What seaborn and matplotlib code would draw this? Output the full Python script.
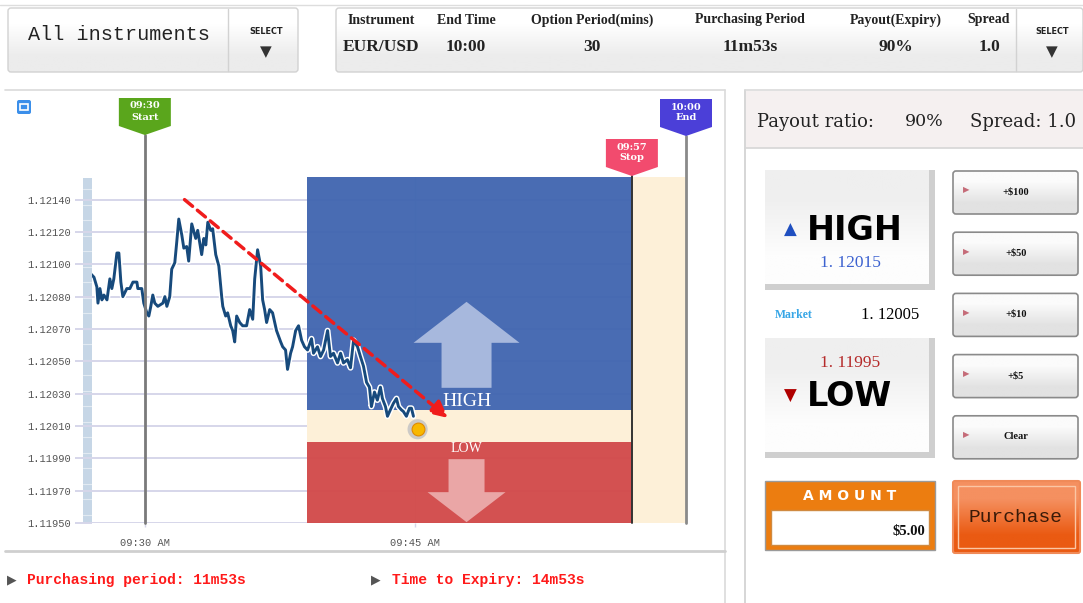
import numpy as np
import matplotlib.pyplot as plt
import seaborn as sns
from matplotlib.patches import Rectangle, FancyBboxPatch, Polygon
from matplotlib.colors import to_rgb
import matplotlib.patheffects as pe

# price grid as labelled on the chart (the lines are evenly spaced on screen)
y_ticks = [1.11950, 1.11970, 1.11990, 1.12010, 1.12030, 1.12050,
           1.12070, 1.12080, 1.12100, 1.12120, 1.12140]
x_ticks = [0, 15]
x_tick_labels = ["09:30 AM", "09:45 AM"]

# EUR/USD price, minutes after 09:30
minutes = [-2.99, -2.82, -2.66, -2.60, -2.49, -2.38, -2.27, -2.10, -1.94, -1.83,
           -1.72, -1.55, -1.44, -1.33, -1.22, -1.00, -0.83, -0.66, -0.44, -0.39,
           -0.17, -0.06, 0.11, 0.22, 0.33, 0.44, 0.55, 0.72, 1.00, 1.11,
           1.22, 1.38, 1.49, 1.66, 1.77, 1.88, 2.05, 2.16, 2.32, 2.43,
           2.60, 2.82, 2.93, 3.15, 3.27, 3.38, 3.49, 3.65, 3.76, 3.93,
           4.10, 4.26, 4.32, 4.48, 4.59, 4.76, 4.87, 4.98, 5.09, 5.26,
           5.42, 5.64, 5.81, 5.98, 6.09, 6.25, 6.42, 6.53, 6.64, 6.75,
           6.92, 7.08, 7.30, 7.53, 7.64, 7.80, 7.91, 8.08, 8.19, 8.36,
           8.52, 8.69, 8.85, 9.02, 9.24, 9.35, 9.57, 9.74, 9.91, 10.13,
           10.29, 10.46, 10.68, 10.85, 11.01, 11.23, 11.40, 11.57, 11.79, 11.95,
           12.12, 12.29, 12.45, 12.56, 12.73, 12.89, 13.06, 13.17, 13.34, 13.45,
           13.61, 13.78, 13.95, 14.06, 14.22, 14.33, 14.50, 14.67, 14.78, 14.89]
prices = [1.12094, 1.12092, 1.12086, 1.12078, 1.12085, 1.12079, 1.12081, 1.12079, 1.12091, 1.12085,
          1.12091, 1.12107, 1.12107, 1.12089, 1.12080, 1.12085, 1.12085, 1.12089, 1.12089, 1.12085,
          1.12085, 1.12078, 1.12075, 1.12074, 1.12077, 1.12081, 1.12078, 1.12077, 1.12078, 1.12080,
          1.12077, 1.12080, 1.12097, 1.12101, 1.12114, 1.12128, 1.12118, 1.12110, 1.12111, 1.12102,
          1.12125, 1.12116, 1.12121, 1.12106, 1.12116, 1.12112, 1.12126, 1.12121, 1.12122, 1.12106,
          1.12099, 1.12080, 1.12077, 1.12074, 1.12075, 1.12071, 1.12069, 1.12062, 1.12074, 1.12072,
          1.12071, 1.12071, 1.12076, 1.12073, 1.12091, 1.12109, 1.12099, 1.12079, 1.12076, 1.12072,
          1.12076, 1.12075, 1.12069, 1.12062, 1.12059, 1.12057, 1.12045, 1.12055, 1.12059, 1.12069,
          1.12071, 1.12063, 1.12059, 1.12057, 1.12064, 1.12055, 1.12059, 1.12053, 1.12057, 1.12069,
          1.12053, 1.12055, 1.12049, 1.12055, 1.12049, 1.12051, 1.12046, 1.12063, 1.12059, 1.12053,
          1.12047, 1.12037, 1.12034, 1.12022, 1.12031, 1.12026, 1.12034, 1.12027, 1.12022, 1.12016,
          1.12020, 1.12024, 1.12027, 1.12022, 1.12020, 1.12019, 1.12016, 1.12021, 1.12021, 1.12016]

view_start, start_min, zone_start, stop_min, end_min = -2.93, 0, 9.0, 27, 30
y_top = 1.12154
high_level, low_level = 1.12020, 1.12000
now_min, now_price = 15.12, 1.12008
trend_from = (2.2, 1.12140)
trend_to = (16.8, 1.12015)

header_labels = ["Instrument", "End Time", "Option Period(mins)", "Purchasing Period", "Payout(Expiry)", "Spread"]
header_values = ["EUR/USD", "10:00", "30", "11m53s", "90%", "1.0"]
amount_buttons = ["+\\$100", "+\\$50", "+\\$10", "+\\$5", "Clear"]

sns.set_style("white")
plt.rcParams["font.family"] = ["DejaVu Sans"]

W, H = 1083, 603
fig = plt.figure(figsize=(W / 100, H / 100), dpi=100)


def overlay(z):
    o = fig.add_axes([0, 0, 1, 1], zorder=z)
    o.set_xlim(0, W)
    o.set_ylim(H, 0)
    o.axis("off")
    return o


bg = overlay(0)
AX_L, AX_R, AX_T, AX_B = 92, 686, 177, 523
ax = fig.add_axes([AX_L / W, (H - AX_B) / H, (AX_R - AX_L) / W, (AX_B - AX_T) / H], zorder=2)
fg = overlay(4)


def grad_img(c0, c1):
    return np.array([to_rgb(c0), to_rgb(c1)]).reshape(2, 1, 3)


def grad(o, x0, y0, x1, y1, c0, c1, ec=None, r=0, lw=1, z=1):
    patch = FancyBboxPatch((x0, y0), x1 - x0, y1 - y0, boxstyle=f"round,pad=0,rounding_size={r}",
                           fc="none", ec=ec if ec else "none", lw=lw, zorder=z + 0.1)
    o.add_patch(patch)
    im = o.imshow(grad_img(c0, c1), extent=(x0, x1, y1, y0), aspect="auto",
                  interpolation="bilinear", zorder=z)
    im.set_clip_path(patch)


def txt(o, x, y, s, size, color="#222222", ha="center", weight="normal", family="DejaVu Serif", **kw):
    o.text(x, y, s, fontsize=size, color=color, ha=ha, va="center", fontweight=weight, family=family, **kw)


# ---------- price chart ----------
sns.lineplot(x=minutes, y=prices, ax=ax, estimator=None, sort=False, color="#174a7c", lw=2.1, zorder=4,
             path_effects=[pe.withStroke(linewidth=4.2, foreground="white")])

anchors = [1.11930] + y_ticks + [1.12160]
idx = np.arange(-1, len(y_ticks) + 1)
ax.set_yscale("function", functions=(lambda v: np.interp(v, anchors, idx),
                                     lambda i: np.interp(i, idx, anchors)))
ax.set_xlim(view_start, end_min)
ax.set_ylim(y_ticks[0], y_top)
ax.set_yticks(y_ticks, labels=[f"{v:.5f}" for v in y_ticks])
ax.set_xticks(x_ticks, labels=x_tick_labels)
ax.set_axisbelow(True)
ax.grid(axis="y", color="#d6d6ea", lw=1.4)
ax.grid(axis="x", color="#dcdcec", lw=1.0)
ax.tick_params(axis="y", left=True, length=12, width=1.4, color="#d6d6ea", pad=3,
               labelsize=7.5, labelcolor="#555555")
ax.tick_params(axis="x", bottom=True, length=3, width=1, color="#d6d6ea", pad=8,
               labelsize=7.5, labelcolor="#555555")
for lab in ax.get_xticklabels() + ax.get_yticklabels():
    lab.set_family("Liberation Mono")
for s in ax.spines.values():
    s.set_visible(False)
ax.set_xlabel("")
ax.set_ylabel("")

# HIGH / LOW zones
ax.fill_between([zone_start, stop_min], high_level, y_top, color="#4166b0", alpha=0.96, lw=0, zorder=1)
ax.fill_between([zone_start, stop_min], low_level, high_level, color="#fdf0d8", lw=0, zorder=1)
ax.fill_between([zone_start, stop_min], y_ticks[0], low_level, color="#d24b4b", alpha=0.97, lw=0, zorder=1)
ax.axvspan(stop_min, end_min, color="#fdf0d8", lw=0, zorder=1)
zone_mid = (zone_start + stop_min) / 2
ax.text(zone_mid - 0.15, high_level, "HIGH", ha="center", va="bottom", color="white", fontsize=14,
        family="Liberation Serif", zorder=5)
ax.text(zone_mid - 0.15, low_level, "LOW", ha="center", va="top", color="white", fontsize=10,
        family="Liberation Serif", zorder=5)

# trend arrow
ax.annotate("", xy=trend_to, xytext=trend_from, zorder=6,
            arrowprops=dict(arrowstyle="-|>,head_length=1.0,head_width=0.5", color="#f01c1c", lw=2.5,
                            linestyle=(0, (3, 1.8)), mutation_scale=10, shrinkA=0, shrinkB=0))

# current price
ax.scatter([now_min], [now_price], s=210, color="#c4c4c4", alpha=0.85, edgecolors="none", zorder=7)
ax.scatter([now_min], [now_price], s=85, color="#f8b800", edgecolors="#e08a00", linewidths=0.8, zorder=8)

# flags and their lines
flags = [(start_min, "09:30", "Start", "#5aa61c", 98, "#7a7a7a", 2.0),
         (stop_min, "09:57", "Stop", "#f24b6e", 139, "#333333", 1.4),
         (end_min, "10:00", "End", "#4b3fd8", 99, "#8a8a8a", 2.0)]
for t, l1, l2, col, top, lcol, lw in flags:
    frac = (AX_B - (top + 37)) / (AX_B - AX_T)
    ax.axvline(t, ymin=0, ymax=frac, color=lcol, lw=lw, clip_on=False, zorder=6)


def to_px(t, v):
    return fg.transData.inverted().transform(ax.transData.transform((t, v)))


for t, l1, l2, col, top, lcol, lw in flags:
    cx = to_px(t, y_top)[0]
    fg.add_patch(Polygon([(cx - 26, top), (cx + 26, top), (cx + 26, top + 28), (cx, top + 37),
                          (cx - 26, top + 28)], closed=True, fc=col, ec="none"))
    txt(fg, cx, top + 8, l1, 7, color="white", weight="bold")
    txt(fg, cx, top + 19, l2, 7, color="white", weight="bold")

# big zone arrows
hx, hy = to_px(zone_mid, high_level)
hx -= 3
fg.add_patch(Polygon([(hx, hy - 108), (hx + 53, hy - 67), (hx + 25, hy - 67), (hx + 25, hy - 22),
                      (hx - 25, hy - 22), (hx - 25, hy - 67), (hx - 53, hy - 67)], fc="#a7b8dd", ec="none"))
lx, ly = to_px(zone_mid, low_level)
lx -= 3
fg.add_patch(Polygon([(lx - 18, ly + 17), (lx + 18, ly + 17), (lx + 18, ly + 50), (lx + 39, ly + 50),
                      (lx, ly + 80), (lx - 39, ly + 50), (lx - 18, ly + 50)], fc="#eaa6a6", ec="none"))

# left scroll strip
bg.add_patch(Rectangle((83, AX_T + 1), 9, AX_B - AX_T - 1, fc="#c6d6e6", ec="none"))
for yy in np.arange(AX_T + 12, AX_B, 15.5):
    bg.plot([83, 92], [yy, yy], color="#e2eaf2", lw=0.8)

# ---------- top bar ----------
bg.plot([0, W], [5, 5], color="#dddddd", lw=1)
grad(bg, 8, 8, 298, 72, "#ffffff", "#ececec", ec="#d2d2d2", r=3)
bg.plot([228, 228], [9, 71], color="#d2d2d2", lw=1, zorder=3)
txt(bg, 28, 35, "All instruments", 14.5, ha="left", family="Liberation Mono", zorder=3)
grad(bg, 336, 8, 1083, 72, "#ffffff", "#ececec", ec="#d2d2d2", r=3)
bg.plot([1016, 1016], [9, 71], color="#d2d2d2", lw=1, zorder=3)
for sx in [266, 1052]:
    txt(bg, sx, 32, "SELECT", 6.5, weight="bold", family="DejaVu Sans", zorder=3, stretch="condensed")
    txt(bg, sx, 52, "▼", 11, color="#333333", family="DejaVu Sans", zorder=3)
for cx, lab, val in zip([381, 466, 592, 750, 896, 989], header_labels, header_values):
    txt(bg, cx, 20, lab, 10, weight="bold", family="Liberation Serif", zorder=3)
    txt(bg, cx, 47, val, 12.5, weight="bold", family="Liberation Serif", zorder=3)

# ---------- chart frame & footer ----------
bg.plot([5, 725], [90, 90], color="#dadada", lw=1.2)
bg.plot([725, 725], [90, H], color="#dadada", lw=1.2)
bg.plot([5, 725], [551, 551], color="#cfcfcf", lw=2)
bg.add_patch(FancyBboxPatch((17, 100), 14, 14, boxstyle="round,pad=0,rounding_size=2", fc="#3b8fea", ec="none"))
bg.add_patch(Rectangle((20, 104), 8, 6, fc="none", ec="white", lw=1.2))
txt(bg, 12, 580, "▶", 9, color="#555555", family="DejaVu Sans")
txt(bg, 27, 580, "Purchasing period: 11m53s", 10.5, color="#ff1a1a", ha="left", weight="bold",
    family="Liberation Mono")
txt(bg, 376, 580, "▶", 9, color="#555555", family="DejaVu Sans")
txt(bg, 392, 580, "Time to Expiry: 14m53s", 10.5, color="#ff1a1a", ha="left", weight="bold",
    family="Liberation Mono")

# ---------- trade panel ----------
bg.add_patch(Rectangle((746, 91), W - 746, 57, fc="#f5f0f0", ec="none"))
bg.plot([745, 745], [90, H], color="#d0d0d0", lw=1.2)
bg.plot([745, W], [90, 90], color="#dadada", lw=1.2)
bg.plot([745, W], [148, 148], color="#d6d6d6", lw=1.2)
txt(bg, 757, 122, "Payout ratio:", 13, ha="left")
txt(bg, 905, 122, "90%", 12.5, ha="left")
txt(bg, 970, 122, "Spread: 1.0", 13, ha="left")

for y0, y1 in [(170, 290), (338, 458)]:
    bg.add_patch(Rectangle((765, y0), 170, y1 - y0, fc="#cfcfcf", ec="none", zorder=1))
    grad(bg, 765, y0, 929, y1 - 6, "#efefef", "#fdfdfd", z=2)
txt(bg, 790, 230, "▲", 12, color="#1f4fc0", family="DejaVu Sans", zorder=3)
txt(bg, 807, 230, "HIGH", 24, color="black", ha="left", weight="bold", family="DejaVu Sans", zorder=3)
txt(bg, 850, 263, "1. 12015", 12.5, color="#3c62d0", family="Liberation Serif", zorder=3)
txt(bg, 794, 315, "Market", 8.5, color="#37a6e6", weight="bold", family="Liberation Serif")
txt(bg, 890, 315, "1. 12005", 12, color="black", family="Liberation Serif")
txt(bg, 850, 363, "1. 11995", 12.5, color="#b52a2a", family="Liberation Serif", zorder=3)
txt(bg, 790, 396, "▼", 12, color="#b00000", family="DejaVu Sans", zorder=3)
txt(bg, 807, 396, "LOW", 24, color="black", ha="left", weight="bold", family="DejaVu Sans", zorder=3)

for i, lab in enumerate(amount_buttons):
    y0 = 171 + i * 61.2
    grad(bg, 953, y0, 1078, y0 + 43, "#fbfbfb", "#e2e2e2", ec="#8a8a8a", r=3, lw=1.2, z=2)
    txt(bg, 966, y0 + 19, "▶", 6, color="#c56b78", family="DejaVu Sans", zorder=3)
    txt(bg, 1016, y0 + 21, lab, 7.5, color="#111111", weight="bold", family="Liberation Serif", zorder=3)

# amount box
bg.add_patch(Rectangle((765, 481), 170, 69, fc="#ec7d10", ec="#9a9a9a", lw=1, zorder=2))
bg.add_patch(Rectangle((771, 510), 158, 35, fc="white", ec="#d08a40", lw=1, zorder=3))
txt(bg, 850, 496, "A M O U N T", 10, color="white", weight="bold", family="DejaVu Sans", zorder=4)
txt(bg, 925, 531, "\\$5.00", 10.5, color="#111111", ha="right", weight="bold", family="Liberation Serif", zorder=4)

# purchase button
grad(bg, 953, 481, 1080, 553, "#f59060", "#ea5a12", ec="#f08a58", r=2, lw=1.5, z=2)
bg.add_patch(Rectangle((958, 486), 117, 62, fc="none", ec="#fbc6a4", lw=1, zorder=3))
txt(bg, 1016, 517, "Purchase", 14, color="#3a1a08", family="Liberation Mono", zorder=4)

for o in (bg, fg):
    o.set_xlim(0, W)
    o.set_ylim(H, 0)

fig.savefig("out.png", dpi=100)
plt.close()
